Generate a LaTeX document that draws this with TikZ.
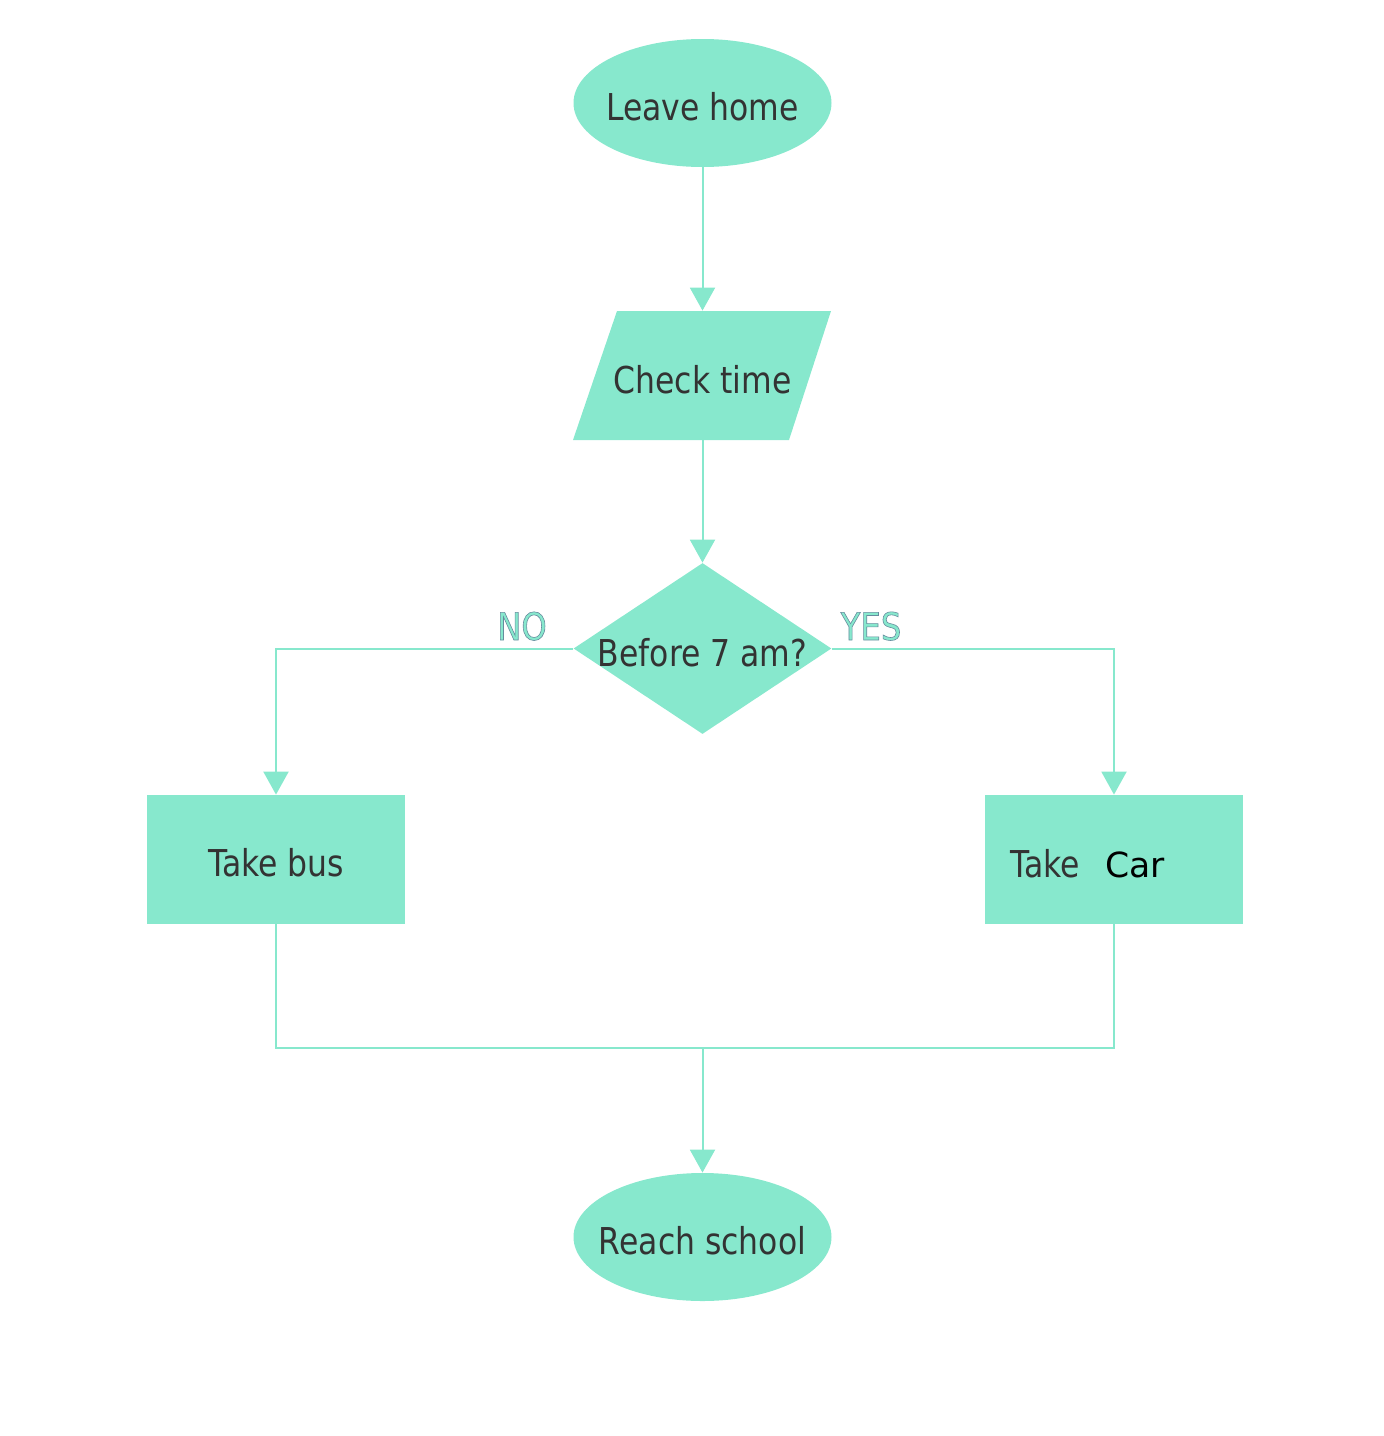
\documentclass[tikz,border=0pt]{standalone}
\usepackage{fontspec}
\setmainfont{DejaVu Sans}
\newfontfamily\boxfont[FakeStretch=0.85]{DejaVu Sans}
\newfontfamily\carfont{DejaVu Sans}
\usetikzlibrary{shapes.geometric,arrows.meta}

\definecolor{mint}{RGB}{135,232,205}
\definecolor{ink}{RGB}{51,51,51}

% outlined branch labels: fill with mint, stroke with a darker rim
\newcommand{\rimtext}[1]{\special{pdf:literal direct 2 Tr 0.3 w 0.40 0.55 0.62 RG}#1\special{pdf:literal direct 0 Tr}}

\tikzset{
  flowline/.style={draw=mint, line width=1pt},
  flowarrow/.style={flowline, -{Triangle[length=11.5pt,width=12.5pt,fill=mint]}},
  terminal/.style={ellipse, fill=mint, minimum width=129pt, minimum height=64pt, inner sep=0pt},
  process/.style={rectangle, fill=mint, minimum width=129pt, minimum height=64.5pt, inner sep=0pt},
  ioframe/.style={rectangle, minimum width=129pt, minimum height=64.5pt, inner sep=0pt},
  decision/.style={diamond, fill=mint, minimum width=129pt, minimum height=85.5pt, inner sep=0pt},
  caption/.style={font={\boxfont\fontsize{18.5pt}{22pt}\selectfont}, text=ink, anchor=base, inner sep=0pt},
  branch/.style={font={\boxfont\fontsize{19pt}{22pt}\selectfont}, text=mint, anchor=base, inner sep=0pt},
}

\begin{document}
\begin{tikzpicture}[x=0.5pt,y=-0.5pt]
  \useasboundingbox (0,0) rectangle (1384,1436);

  % shapes
  \node[terminal] (home) at (702.5,103) {};
  \fill[mint] (617,311) -- (831,311) -- (789,440) -- (573,440) -- cycle;
  \node[ioframe] (check) at (702.5,375.5) {};
  \node[decision] (dec) at (702.5,648.5) {};
  \node[process] (bus) at (276,859.5) {};
  \node[process] (car) at (1114,859.5) {};
  \node[terminal] (school) at (702.5,1237) {};

  % texts
  \node[caption] (thome) at (702.5,120) {Leave home};
  \node[caption] (tcheck) at (702.5,393) {Check time};
  \node[caption] (tdec) at (702.5,666) {Before 7 am?};
  \node[caption] (tbus) at (276,876) {Take bus};
  \node[caption, anchor=base west] (tcar) at (1010,877)
    {Take\hspace{12.5pt}{\carfont\fontsize{17.3pt}{20pt}\selectfont\color{black}Car}};
  \node[caption] (tschool) at (702.5,1254) {Reach school};

  % connectors
  \draw[flowarrow] (home.south) -- (check.north);
  \draw[flowarrow] (check.south) -- (dec.north);
  \draw[flowarrow] (dec.west) -| (bus.north);
  \draw[flowarrow] (dec.east) -| (car.north);
  \coordinate (join) at (702.5,1048);
  \draw[flowline] (bus.south) |- (join);
  \draw[flowline] (car.south) |- (join);
  \draw[flowarrow] (join) -- (school.north);

  % branch labels
  \node[branch] (lno) at (522,640) {\rimtext{NO}};
  \node[branch] (lyes) at (871,640) {\rimtext{YES}};
\end{tikzpicture}
\end{document}
